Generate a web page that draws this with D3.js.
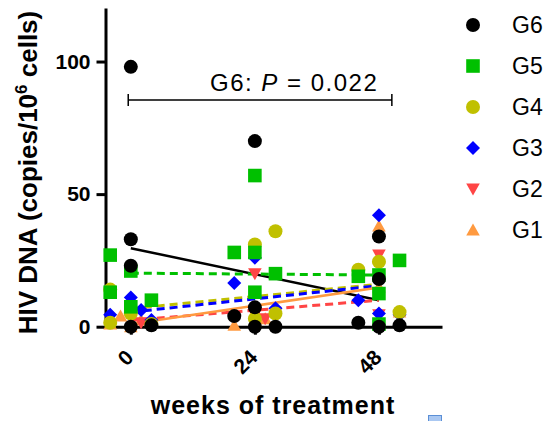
<!DOCTYPE html>
<html>
<head>
<meta charset="utf-8">
<script src="https://cdn.jsdelivr.net/npm/d3@7"></script>
<style>
body { margin: 0; background: #fff; }
text { font-family: "Liberation Sans", Arial, sans-serif; }
</style>
</head>
<body>
<svg id="chart" width="545" height="421"></svg>
<script>
// groups, top of legend first
var groups = ["G6", "G5", "G4", "G3", "G2", "G1"];
var weeks = [0, 24, 48];
var yTicks = [0, 50, 100];

// points: [week, jitter slot, copies/10^6 cells]
var g6 = [[0,0,98],[0,0,33],[0,0,23],[0,0,0],[0,2,0.5],
          [24,0,70],[24,0,7.3],[24,0,0],[24,-2,4],[24,2,0],
          [48,0,34],[48,0,18],[48,0,0],[48,-2,1.5],[48,2,0.5]];
var g5 = [[0,-2,27],[0,-2,13],[0,0,21],[0,0,7.5],[0,2,10],
          [24,-2,28],[24,0,57],[24,0,28],[24,0,13],[24,2,20],
          [48,-2,19],[48,0,19.5],[48,0,12.5],[48,0,1],[48,2,25]];
var g4 = [[0,-2,14],[0,-2,1.5],[0,0,5],[0,2,1],
          [24,0,31],[24,0,3],[24,2,36],[24,2,5],
          [48,-2,21.5],[48,0,24.5],[48,2,5.5]];
var g3 = [[0,-2,4.5],[0,0,11],[0,1,6.3],[0,2,2.5],
          [24,-2,16.5],[24,0,26],[24,2,7],
          [48,-2,10],[48,0,42],[48,0,5],[48,2,4.5]];
var g2 = [[0,0,4],[0,1,1.5],
          [24,0,20],[24,0,4.5],[24,1,3],
          [48,0,27],[48,0,4.5]];
var g1 = [[0,-2,1],[0,-1,4],[0,0,0],[0,1,2.5],
          [24,-2,0.5],[24,0,2],[24,1,3],
          [48,0,38],[48,0,26],[48,0,15],[48,2,5.5]];

// fitted lines, value at week 0 and week 48
var fitStart = [29.6, 20.2, 6.8, 5.5, 2.4, 1];
var fitEnd   = [10, 19.5, 16, 15.5, 10, 14.8];

// bracket: weeks spanned and height
var bracketWeeks = [-0.5, 50.5];
var bracketY = 85.5;

var pointSets = [g6, g5, g4, g3, g2, g1];
var colors = ["#000000", "#00c000", "#c0c000", "#0000ff", "#ff4545", "#ff9a40"];
var shapes = ["circle", "square", "circle", "diamond", "down", "up"];
var dashed = [false, true, true, true, true, false];

var svg = d3.select("#chart");

var x = d3.scaleLinear().domain([-4.8, 60.2]).range([106, 442]);
var y = d3.scaleLinear().domain([0, 120]).range([326.7, 8.5]);
var slotStep = 10.3;

function shapePath(s) {
    if (s == "circle") return "M7,0A7,7 0 1,1 -7,0A7,7 0 1,1 7,0Z";
    if (s == "square") return "M-6.8,-6.8H6.8V6.8H-6.8Z";
    if (s == "diamond") return "M0,-7L7,0L0,7L-7,0Z";
    if (s == "down") return "M-6.8,-5.5L6.8,-5.5L0,6.5Z";
    return "M0,-6.5L6.8,5.5L-6.8,5.5Z";
}

// axes
var yAxis = svg.append("g")
    .attr("transform", "translate(106,0)")
    .call(d3.axisLeft(y).tickValues(yTicks).tickSize(9.5).tickSizeOuter(0).tickPadding(6));
var xAxis = svg.append("g")
    .attr("transform", "translate(0,326.7)")
    .call(d3.axisBottom(x).tickValues(weeks).tickSize(8).tickSizeOuter(0));

[yAxis, xAxis].forEach(function(a) {
    a.select(".domain").attr("stroke-width", 3).attr("stroke", "#000");
    a.selectAll(".tick line").attr("stroke-width", 3).attr("stroke", "#000");
    a.selectAll("text").attr("fill", "#000").attr("font-size", 21).attr("font-weight", "bold");
});
yAxis.select(".domain").attr("d", "M0," + y(0) + "V" + y(120));

xAxis.selectAll(".tick text")
    .attr("x", 0).attr("y", 0).attr("dy", 0)
    .attr("text-anchor", "end")
    .attr("transform", "translate(3.5,32) rotate(-45)");

// axis titles
var yTitle = svg.append("text")
    .attr("transform", "translate(37,172.5) rotate(-90)")
    .attr("text-anchor", "middle")
    .attr("font-size", 26).attr("font-weight", "bold");
yTitle.append("tspan").text("HIV DNA (copies/10");
yTitle.append("tspan").attr("dy", -10).attr("font-size", 17).text("6");
yTitle.append("tspan").attr("dy", 10).text(" cells)");

svg.append("text")
    .attr("x", 273).attr("y", 414)
    .attr("text-anchor", "middle")
    .attr("font-size", 25).attr("font-weight", "bold")
    .attr("letter-spacing", 1)
    .text("weeks of treatment");

// fitted lines
groups.forEach(function(g, i) {
    svg.append("line")
        .attr("x1", x(0)).attr("y1", y(fitStart[i]))
        .attr("x2", x(48)).attr("y2", y(fitEnd[i]))
        .attr("stroke", colors[i])
        .attr("stroke-width", dashed[i] ? 3 : 2.5)
        .attr("stroke-dasharray", dashed[i] ? "8,5" : null);
});

// points, G1 drawn first so G6 ends up on top
for (var i = groups.length - 1; i >= 0; i--) {
    svg.append("g").selectAll("path")
        .data(pointSets[i])
        .enter().append("path")
        .attr("d", shapePath(shapes[i]))
        .attr("fill", colors[i])
        .attr("transform", function(d) {
            return "translate(" + (x(d[0]) + d[1] * slotStep) + "," + y(d[2]) + ")";
        });
}

// significance bracket
var bx1 = x(bracketWeeks[0]), bx2 = x(bracketWeeks[1]), by = y(bracketY);
svg.append("path")
    .attr("d", "M" + bx1 + "," + (by - 6) + "V" + (by + 6) + "M" + bx1 + "," + by + "H" + bx2 +
               "M" + bx2 + "," + (by - 6) + "V" + (by + 6))
    .attr("stroke", "#000").attr("stroke-width", 1.5).attr("fill", "none");
var note = svg.append("text")
    .attr("x", 210).attr("y", 90.5)
    .attr("font-size", 24).attr("letter-spacing", 1.5);
note.append("tspan").text("G6: ");
note.append("tspan").attr("font-style", "italic").text("P");
note.append("tspan").text(" = 0.022");

// legend
var legend = svg.append("g").selectAll("g")
    .data(groups)
    .enter().append("g")
    .attr("transform", function(d, i) { return "translate(473," + (25 + i * 41) + ")"; });
legend.append("path")
    .attr("d", function(d, i) { return shapePath(shapes[i]); })
    .attr("fill", function(d, i) { return colors[i]; });
legend.append("text")
    .attr("x", 39).attr("y", 8.3)
    .attr("font-size", 23)
    .text(function(d) { return d; });

// small marker in the bottom corner of the original image
svg.append("rect")
    .attr("x", 428.5).attr("y", 415.5).attr("width", 13).attr("height", 8)
    .attr("fill", "#aac8f2").attr("stroke", "#5b8fd6").attr("stroke-width", 1);
</script>
</body>
</html>
